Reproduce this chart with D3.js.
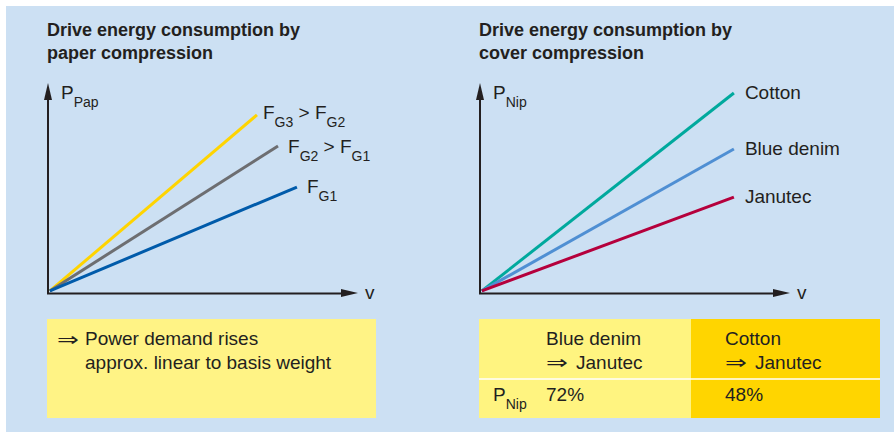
<!DOCTYPE html>
<html>
<head>
<meta charset="utf-8">
<script src="https://cdn.jsdelivr.net/npm/d3@7"></script>
<style>
  html, body { margin: 0; padding: 0; background: #ffffff; }
  svg { display: block; }
  text { font-family: "Liberation Sans", Arial, sans-serif; fill: #231f20; }
</style>
</head>
<body>
<svg id="chart" width="894" height="432"></svg>
<script>
// ---------- data ----------
const leftTitle = ["Drive energy consumption by", "paper compression"];
const rightTitle = ["Drive energy consumption by", "cover compression"];
const leftYLabel = "P_{Pap}";
const rightYLabel = "P_{Nip}";
const xLabel = "v";

const paperSeries = ["F_{G3} > F_{G2}", "F_{G2} > F_{G1}", "F_{G1}"];
const paperEndV = [67.4, 74.2, 80.3];
const paperEndP = [85.2, 70.3, 50.7];

const coverSeries = ["Cotton", "Blue denim", "Janutec"];
const coverEndV = [81.9, 81.9, 81.9];
const coverEndP = [95.7, 68.9, 45.9];

const originV = 0.6, originP = 1.0;

const noteLines = ["Power demand rises", "approx. linear to basis weight"];

const tableFrom = ["Blue denim", "Cotton"];
const tableTo = "Janutec";
const tableRowLabel = "P_{Nip}";
const tableValues = ["72%", "48%"];

// ---------- styles ----------
const paperColors = ["#ffd400", "#6d6e71", "#005baa"];
const coverColors = ["#00a99d", "#4f8fd3", "#b5003c"];
const ink = "#231f20";

const svg = d3.select("#chart");

svg.append("rect").attr("x", 6).attr("y", 6).attr("width", 888).attr("height", 426)
  .attr("fill", "#cce0f3");

// text helper: parses _{sub}
function richText(g, str, x, y, size, subSize, weight) {
  const t = g.append("text").attr("x", x).attr("y", y)
    .attr("font-size", size).attr("font-weight", weight || "normal");
  const re = /_\{([^}]*)\}/g;
  let last = 0, m, shifted = false;
  const parts = [];
  while ((m = re.exec(str)) !== null) {
    if (m.index > last) parts.push({ s: str.slice(last, m.index), sub: false });
    parts.push({ s: m[1], sub: true });
    last = re.lastIndex;
  }
  if (last < str.length) parts.push({ s: str.slice(last), sub: false });
  parts.forEach(p => {
    const ts = t.append("tspan").text(p.s).style("white-space", "pre");
    if (p.sub) {
      ts.attr("font-size", subSize);
      if (!shifted) { ts.attr("dy", 8); shifted = true; }
    } else if (shifted) {
      ts.attr("dy", -8); shifted = false;
    }
  });
  t.attr("xml:space", "preserve");
  return t;
}

function drawPanel(cfg) {
  const g = svg.append("g");
  const x = d3.scaleLinear().domain([0, 100]).range([cfg.x0, cfg.x0 + 310]);
  const y = d3.scaleLinear().domain([0, 100]).range([293, 84]);

  // title
  cfg.title.forEach((line, i) => {
    g.append("text").attr("x", cfg.x0 - 1).attr("y", 36 + i * 23)
      .attr("font-size", 18).attr("font-weight", "bold").text(line);
  });

  // axes via d3 axis (no ticks)
  const xAxis = d3.axisBottom(x).tickValues([]).tickSizeOuter(0);
  const yAxis = d3.axisLeft(y).tickValues([]).tickSizeOuter(0);
  const gx = g.append("g").attr("transform", `translate(0,${y(0)})`).call(xAxis);
  const gy = g.append("g").attr("transform", `translate(${x(0)},0)`).call(yAxis);
  gx.select(".domain").attr("stroke", ink).attr("stroke-width", 2)
    .attr("d", `M${x(0) - 1},0.5H${x(100) - 14}`);
  gy.select(".domain").attr("stroke", ink).attr("stroke-width", 2)
    .attr("d", `M0,${y(0) + 1}V${y(100) + 14}`);
  // arrowheads
  g.append("path").attr("fill", ink)
    .attr("d", `M${x(100)},${y(0)}L${x(100) - 17},${y(0) - 4}L${x(100) - 17},${y(0) + 4}Z`);
  g.append("path").attr("fill", ink)
    .attr("d", `M${x(0)},${y(100) - 1}L${x(0) - 4},${y(100) + 16}L${x(0) + 4},${y(100) + 16}Z`);

  // axis labels
  richText(g, cfg.yLabel, x(0) + 13, 99, 19, 14);
  g.append("text").attr("x", x(100) + 7).attr("y", 299).attr("font-size", 19).text(xLabel);

  // lines
  const line = d3.line().x(d => x(d[0])).y(d => y(d[1]));
  cfg.names.forEach((name, i) => {
    g.append("path")
      .attr("d", line([[originV, originP], [cfg.endV[i], cfg.endP[i]]]))
      .attr("stroke", cfg.colors[i]).attr("stroke-width", 3).attr("fill", "none");
    richText(g, name, x(cfg.endV[i]) + cfg.ldx[i], y(cfg.endP[i]) + cfg.ldy[i], 19, 14);
  });
  return { g, x, y };
}

drawPanel({ x0: 48, title: leftTitle, yLabel: leftYLabel, names: paperSeries,
  endV: paperEndV, endP: paperEndP, colors: paperColors,
  ldx: [6, 10, 10], ldy: [4, 7, 6] });
drawPanel({ x0: 480, title: rightTitle, yLabel: rightYLabel, names: coverSeries,
  endV: coverEndV, endP: coverEndP, colors: coverColors,
  ldx: [11, 11, 11], ldy: [6, 6, 6] });

// note box (left)
const note = svg.append("g");
note.append("rect").attr("x", 47).attr("y", 319).attr("width", 329).attr("height", 99)
  .attr("fill", "#fff385");
note.append("text").attr("x", 57).attr("y", 346).attr("font-size", 19)
  .attr("font-family", "DejaVu Sans").attr("textLength", 22).attr("lengthAdjust", "spacingAndGlyphs")
  .text("⇒");
noteLines.forEach((l, i) => {
  note.append("text").attr("x", 85).attr("y", 345 + i * 24).attr("font-size", 19).text(l);
});

// table (right)
const tbl = svg.append("g");
const colX = d3.scaleOrdinal().domain(tableFrom).range([479, 691]);
const colW = d3.scaleOrdinal().domain(tableFrom).range([212, 189]);
const colFill = d3.scaleOrdinal().domain(tableFrom).range(["#fff480", "#ffd500"]);
const textX = d3.scaleOrdinal().domain(tableFrom).range([546, 725]);
tableFrom.forEach((name, i) => {
  tbl.append("rect").attr("x", colX(name)).attr("y", 319).attr("width", colW(name)).attr("height", 99)
    .attr("fill", colFill(name));
  tbl.append("text").attr("x", textX(name)).attr("y", 345).attr("font-size", 19).text(name);
  tbl.append("text").attr("x", textX(name)).attr("y", 369).attr("font-size", 19)
    .attr("font-family", "DejaVu Sans").attr("textLength", 22).attr("lengthAdjust", "spacingAndGlyphs")
    .text("⇒");
  tbl.append("text").attr("x", textX(name) + 30).attr("y", 369).attr("font-size", 19).text(tableTo);
  tbl.append("text").attr("x", textX(name)).attr("y", 401).attr("font-size", 19).text(tableValues[i]);
});
tbl.append("line").attr("x1", 479).attr("x2", 880).attr("y1", 379).attr("y2", 379)
  .attr("stroke", "#ffffff").attr("stroke-width", 1.5);
richText(tbl, tableRowLabel, 493, 401, 19, 14);
</script>
</body>
</html>
